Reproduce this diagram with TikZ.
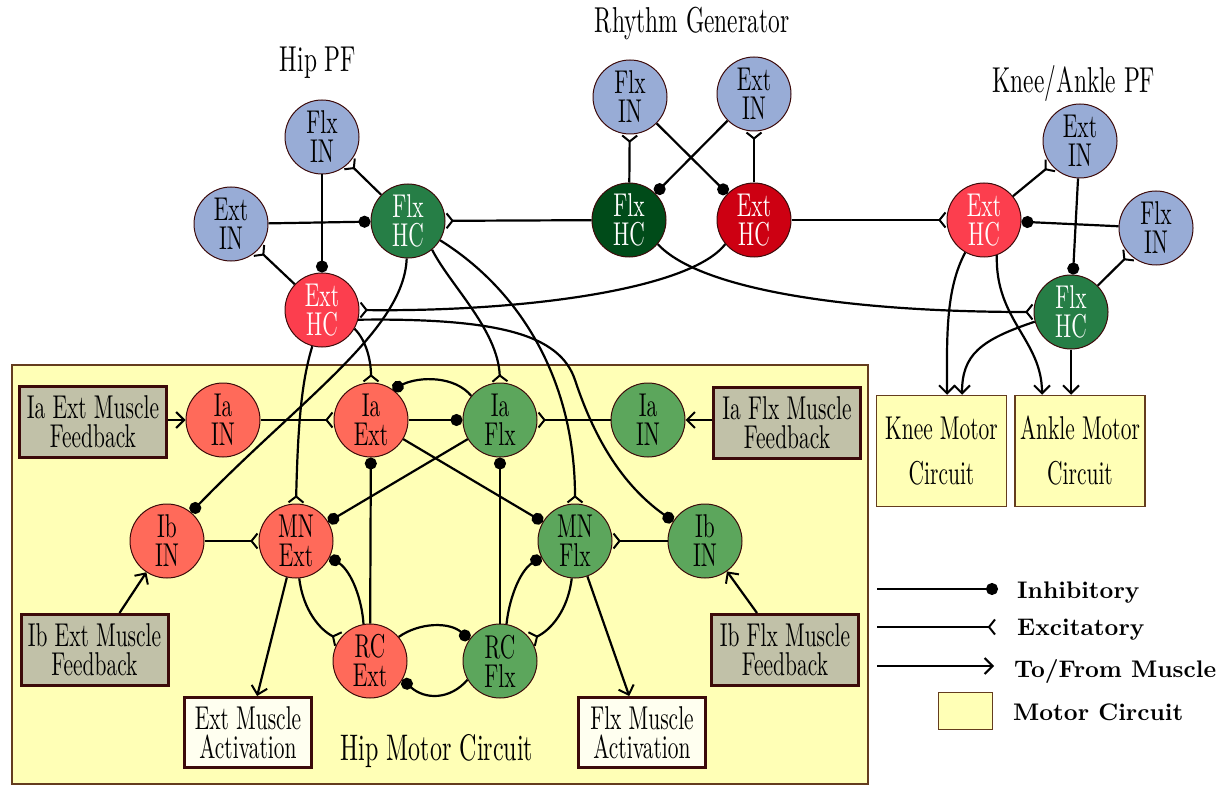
\documentclass[tikz,border=0pt]{standalone}
\usepackage{fontspec}
\usetikzlibrary{arrows.meta}
\newfontfamily\cond{lmroman10-regular.otf}[FakeStretch=0.65]
\newfontfamily\legf{lmroman10-bold.otf}
\definecolor{inblue}{RGB}{152,172,214}
\definecolor{hcgreen}{RGB}{38,126,70}
\definecolor{hcred}{RGB}{252,62,78}
\definecolor{rggreen}{RGB}{0,75,25}
\definecolor{rgred}{RGB}{205,0,18}
\definecolor{mext}{RGB}{255,106,90}
\definecolor{mflx}{RGB}{92,166,92}
\definecolor{edgec}{RGB}{60,10,10}
\definecolor{mcyellow}{RGB}{255,255,182}
\definecolor{mcborder}{RGB}{100,60,30}
\definecolor{fbgrey}{RGB}{193,193,168}
\definecolor{actwhite}{RGB}{255,255,240}
\begin{document}
\begin{tikzpicture}[x=1pt,y=-1pt,
  neu/.style={circle, draw=edgec, line width=1pt, minimum size=74pt, inner sep=0pt, align=center, font=\cond\fontsize{33}{29}\selectfont},
  inN/.style={neu, fill=inblue},
  hcF/.style={neu, fill=hcgreen, text=white},
  hcE/.style={neu, fill=hcred, text=white},
  rgF/.style={neu, fill=rggreen, text=white},
  rgE/.style={neu, fill=rgred, text=white},
  mE/.style={neu, fill=mext},
  mF/.style={neu, fill=mflx},
  fbbox/.style={rectangle, draw=edgec, line width=3pt, fill=fbgrey, minimum width=147pt, minimum height=71pt, inner sep=0pt, align=center, font=\cond\fontsize{33}{29}\selectfont},
  actbox/.style={fbbox, fill=actwhite, minimum width=127pt, minimum height=70pt},
  jbox/.style={rectangle, draw=mcborder, line width=1.5pt, fill=mcyellow, minimum width=130pt, minimum height=111pt, inner sep=0pt, align=center, font=\cond\fontsize{33}{45}\selectfont},
  mcbox/.style={rectangle, draw=mcborder, line width=1.5pt, fill=mcyellow, inner sep=0pt},
  title/.style={font=\cond\fontsize{36}{36}\selectfont, inner sep=0pt},
  leg/.style={font=\legf\fontsize{24}{24}\selectfont, inner sep=0pt, anchor=base west},
  conn/.style={line width=2.2pt, black},
  inh/.style={conn, -{Circle[length=12pt]}},
  exc/.style={conn, -{Straight Barb[reversed, length=6pt, width=15pt, line width=2pt]}},
  mus/.style={conn, -{Straight Barb[length=8pt, width=16pt, line width=2pt]}}
]
\useasboundingbox (0,0) rectangle (1228,794);

% motor circuit background
\node[mcbox, minimum width=856pt, minimum height=419pt] (hipbox) at (440,574.5) {};
\node[title, anchor=base, font=\cond\fontsize{37}{37}\selectfont] (hipl) at (437,760) {Hip Motor Circuit};

% titles
\node[title, anchor=base] (tHip) at (318,72) {Hip PF};
\node[title, anchor=base] (tRG) at (692,33) {Rhythm Generator};
\node[title, anchor=base] (tKA) at (1074,93) {Knee/Ankle PF};

% hip PF
\node[inN] (hFI) at (322,137) {Flx\\IN};
\node[inN] (hEI) at (231,224) {Ext\\IN};
\node[hcF] (hFH) at (408,221) {Flx\\HC};
\node[hcE] (hEH) at (322,310) {Ext\\HC};
% rhythm generator
\node[inN] (rFI) at (630,97) {Flx\\IN};
\node[inN] (rEI) at (754,94) {Ext\\IN};
\node[rgF] (rFH) at (629,220) {Flx\\HC};
\node[rgE] (rEH) at (754,220) {Ext\\HC};
% knee/ankle PF
\node[inN] (kEI) at (1080,141) {Ext\\IN};
\node[hcE] (kEH) at (984,220) {Ext\\HC};
\node[inN] (kFI) at (1156,228) {Flx\\IN};
\node[hcF] (kFH) at (1071,312) {Flx\\HC};

% hip motor circuit
\node[mE] (iaINe) at (223,420) {Ia\\IN};
\node[mE] (iaE) at (371,420) {Ia\\Ext};
\node[mF] (iaF) at (500,420) {Ia\\Flx};
\node[mF] (iaINf) at (648,420) {Ia\\IN};
\node[mE] (ibINe) at (167,541) {Ib\\IN};
\node[mE] (mnE) at (296,541) {MN\\Ext};
\node[mF] (mnF) at (575,541) {MN\\Flx};
\node[mF] (ibINf) at (705,541) {Ib\\IN};
\node[mE] (rcE) at (370,661) {RC\\Ext};
\node[mF] (rcF) at (500,661) {RC\\Flx};

\node[fbbox] (fbIaE) at (93,422) {Ia Ext Muscle\\Feedback};
\node[fbbox] (fbIaF) at (787,422.5) {Ia Flx Muscle\\Feedback};
\node[fbbox] (fbIbE) at (94.5,650) {Ib Ext Muscle\\Feedback};
\node[fbbox] (fbIbF) at (785,650) {Ib Flx Muscle\\Feedback};
\node[actbox] (actE) at (248,732.5) {Ext Muscle\\Activation};
\node[actbox] (actF) at (642,732.5) {Flx Muscle\\Activation};
\node[jbox] (kneeMC) at (941.5,451) {Knee Motor\\Circuit};
\node[jbox] (ankleMC) at (1080,451) {Ankle Motor\\Circuit};

% ---- hip PF connections
\draw[exc] (hFH) -- (hFI);
\draw[inh] (hEI) -- (hFH);
\draw[inh] (hFI) -- (hEH);
\draw[exc] (hEH) -- (hEI);
% ---- rhythm generator
\draw[exc] (rFH) -- (rFI);
\draw[exc] (rEH) -- (rEI);
\draw[inh] (rFI) -- (rEH);
\draw[inh] (rEI) -- (rFH);
\draw[exc] (rFH) -- (hFH);
\draw[exc] (rEH) -- (kEH);
\draw[exc] (rEH.220) .. controls (690,290) and (520,312) .. (hEH.east);
\draw[exc] (rFH.-40) .. controls (700,290) and (850,312) .. (kFH.west);
% ---- knee/ankle PF
\draw[exc] (kEH) -- (kEI);
\draw[inh] (kFI) -- (kEH);
\draw[inh] (kEI) -- (kFH);
\draw[exc] (kFH) -- (kFI);
\draw[mus] (kEH.240) .. controls (945,290) and (947,340) .. ([xshift=5.5pt]kneeMC.north);
\draw[mus] (kFH.195) .. controls (980,340) and (962,355) .. ([xshift=20.5pt]kneeMC.north);
\draw[mus] (kEH.-70) .. controls (995,320) and (1042,340) .. ([xshift=-38pt]ankleMC.north);
\draw[mus] (kFH.south) -- (kFH.south |- ankleMC.north);
% ---- descending hip
\draw[inh] (hFH.268) .. controls (404,330) and (300,400) .. (ibINe.50);
\draw[exc] (hFH.-50) .. controls (450,285) and (498,330) .. (iaF.north);
\draw[exc] (hFH.-31) .. controls (520,290) and (575,380) .. (mnF.north);
\draw[exc] (hEH.-105) .. controls (302,380) and (298,420) .. (mnE.north);
\draw[exc] (hEH.-30) .. controls (366,340) and (371,360) .. (iaE.north);
\draw[inh] (hEH.-15) .. controls (500,318) and (560,335) .. (575,380) .. controls (590,425) and (615,480) .. (ibINf.148);
% ---- hip motor circuit
\draw[mus] (fbIaE.east |- iaINe) -- (iaINe);
\draw[exc] (iaINe) -- (iaE);
\draw[exc] (iaINf) -- (iaF);
\draw[mus] (fbIaF.west |- iaINf) -- (iaINf);
\draw[inh] (iaE) -- (iaF);
\draw[inh] (iaF.140) .. controls (455,376) and (420,376) .. (iaE.55);
\draw[inh] (iaE) -- (mnF);
\draw[inh] (iaF) -- (mnE);
\draw[inh] (rcE) -- (iaE);
\draw[inh] (rcF) -- (iaF);
\draw[exc] (ibINe) -- (mnE);
\draw[exc] (ibINf) -- (mnF);
\draw[mus] ([xshift=25pt]fbIbE.north) -- (ibINe);
\draw[mus] ([xshift=-28pt]fbIbF.north) -- (ibINf);
\draw[mus] (mnE) -- (actE);
\draw[mus] (mnF) -- (actF);
\draw[exc] (mnE.275) .. controls (303,610) and (320,630) .. (rcE.145);
\draw[inh] (rcE.100) .. controls (362,600) and (352,572) .. (mnE.-25);
\draw[exc] (mnF.265) .. controls (568,610) and (551,630) .. (rcF.35);
\draw[inh] (rcF.80) .. controls (509,600) and (519,572) .. (mnF.205);
\draw[inh] (rcE.40) .. controls (420,622) and (450,622) .. (rcF.145);
\draw[inh] (rcF.210) .. controls (450,700) and (425,700) .. (rcE.-30);

% ---- legend
\coordinate (l1a) at (877,589); \coordinate (l1b) at (998,589);
\coordinate (l2a) at (877,627); \coordinate (l2b) at (996,627);
\coordinate (l3a) at (877,666); \coordinate (l3b) at (994,666);
\draw[inh] (l1a) -- (l1b);
\draw[exc] (l2a) -- (l2b);
\draw[mus] (l3a) -- (l3b);
\node[leg] (lg1) at (1017,598) {Inhibitory};
\node[leg] (lg2) at (1017,635) {Excitatory};
\node[leg] (lg3) at (1014,677) {To/From Muscle};
\node[mcbox, minimum width=54pt, minimum height=37pt, line width=0.8pt] (lgbox) at (965,710.5) {};
\node[leg] (lg4) at (1013,720) {Motor Circuit};
\end{tikzpicture}
\end{document}
